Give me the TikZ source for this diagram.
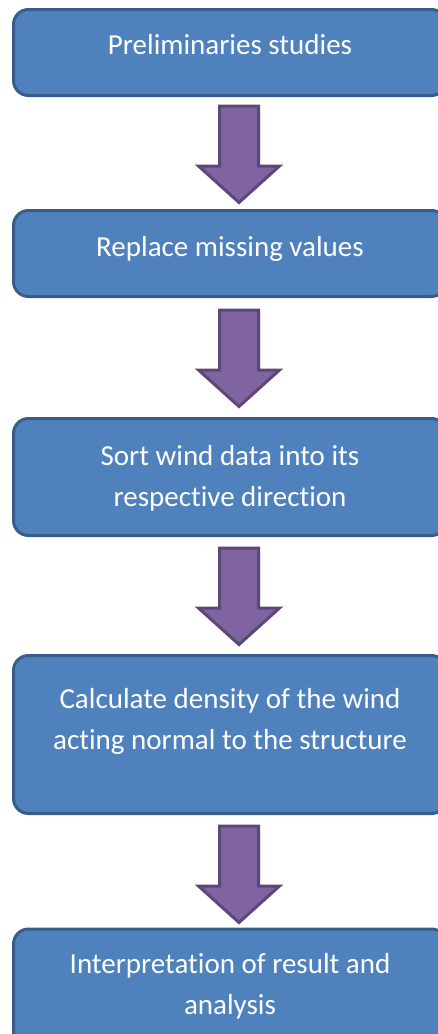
\documentclass[tikz,border=0pt]{standalone}
\usepackage{fontspec}
\setmainfont{Carlito}[Ligatures={NoCommon,NoContextual},Contextuals=NoAlternate]
\usetikzlibrary{calc}
\definecolor{boxfill}{HTML}{4F81BD}
\definecolor{boxline}{HTML}{385D8A}
\definecolor{arrowfill}{HTML}{8064A2}
\definecolor{arrowline}{HTML}{5C4776}
% keep "t" and "i" as separate glyphs
\newcommand{\tisep}{t\kern0pt i}
\tikzset{
  stepbox/.style={draw=boxline, fill=boxfill, line width=3pt,
    rounded corners=15pt, minimum width=433pt, inner sep=0pt},
  steptext/.style={text=white, font=\fontsize{29}{41}\selectfont,
    align=center, inner sep=0pt},
  blockarrow/.style={draw=arrowline, fill=arrowfill, line width=3pt},
  downarrow/.pic={
    \draw[blockarrow] (-19.5,0) -- (19.5,0) -- (19.5,60) -- (40.5,60)
      -- (0,96.5) -- (-40.5,60) -- (-19.5,60) -- cycle;
  }
}
\begin{document}
\begin{tikzpicture}[x=1pt,y=-1pt]
  \fill[white] (0,0) rectangle (438,1034);
  \clip (0,0) rectangle (438,1034);

  % process steps
  \node[stepbox, minimum height=86pt]  (b1) at (230,52.5)  {};
  \node[stepbox, minimum height=86pt]  (b2) at (230,253.5) {};
  \node[stepbox, minimum height=117pt] (b3) at (230,477)   {};
  \node[stepbox, minimum height=158pt] (b4) at (230,734.5) {};
  \node[stepbox, minimum height=117pt] (b5) at (230,987.5) {};

  \node[steptext] (t1) at (230,44.5) {Preliminaries studies};
  \node[steptext] (t2) at (230,248.5) {Replace missing values};
  \node[steptext] (t3) at (230,478) {Sort wind data into its\\respec\tisep ve direction};
  \node[steptext] (t4) at (230,721) {Calculate density of the wind\\ac\tisep ng normal to the structure};
  \node[steptext] (t5) at (230,986) {Interpreta\tisep on of result and\\analysis};

  % block arrows between consecutive steps (y grows downward)
  \pic (a1) at ($(b1.south)+(9,9)$)  {downarrow};
  \pic (a2) at ($(b2.south)+(9,12)$) {downarrow};
  \pic (a3) at ($(b3.south)+(9,11)$) {downarrow};
  \pic (a4) at ($(b4.south)+(9,11)$) {downarrow};
\end{tikzpicture}
\end{document}
